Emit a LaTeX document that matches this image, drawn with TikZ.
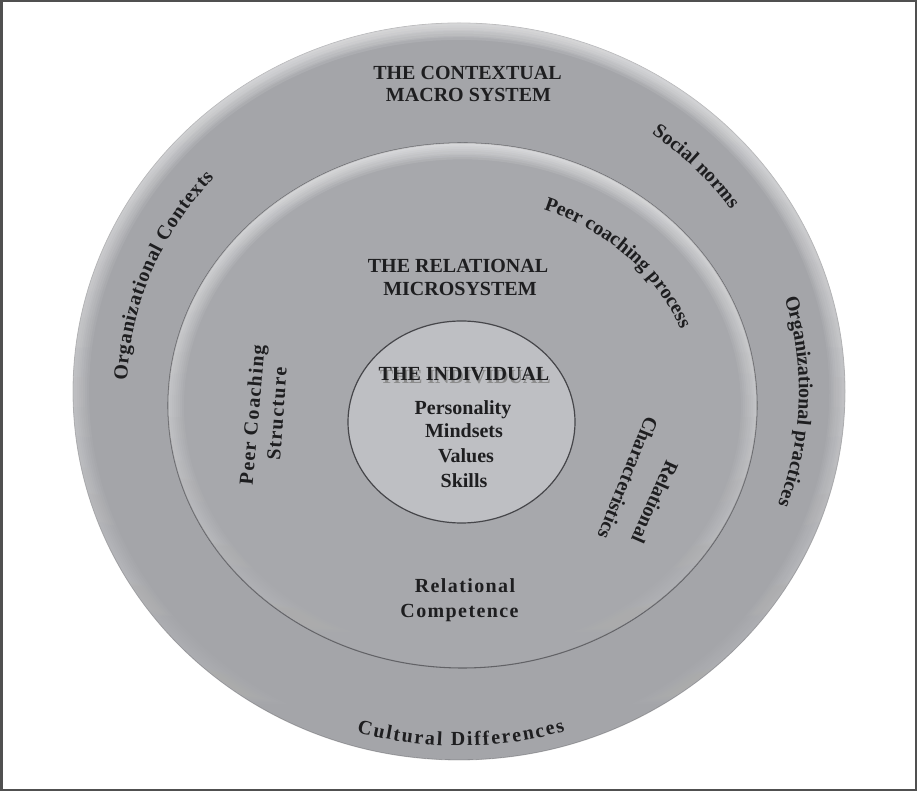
\documentclass[tikz,border=0pt]{standalone}
\usepackage{fontspec}
\setmainfont{Liberation Serif}
\newfontfamily\spacedserif[LetterSpace=7]{Liberation Serif}
\usetikzlibrary{decorations.text,fadings}

\definecolor{ringgray}{RGB}{164,165,169}
\definecolor{midgray}{RGB}{167,168,172}
\definecolor{coregray}{RGB}{190,191,195}
\definecolor{edgegray}{RGB}{70,70,74}
\definecolor{inkgray}{RGB}{30,30,32}
\definecolor{framegray}{RGB}{80,80,80}

\tikzfading[name=topglow, top color=transparent!0, middle color=transparent!100, bottom color=transparent!100]

% light rim on the upper edge of a disc
\newcommand{\ringglow}[3]{%
  \begin{scope}
    \clip (#1) ellipse [x radius=#2, y radius=#3];
    \foreach \w in {3,6,...,24}
      \draw[white, opacity=0.1, line width=\w pt, path fading=topglow] (#1) ellipse [x radius=#2, y radius=#3];
  \end{scope}}

\begin{document}
\begin{tikzpicture}[x=0.75pt, y=0.75pt,
    every node/.style={text=inkgray, font=\fontsize{15}{18}\selectfont\bfseries, anchor=base},
    spaced/.style={font=\spacedserif\fontsize{15}{18}\selectfont\bfseries},
    turned/.style={spaced, anchor=center},
    ringtext/.style={decorate, decoration={text along path, text align={fit to path}, text color=inkgray,
        text={|\fontsize{15}{18}\selectfont\bfseries|#1}}},
    tighttext/.style={decorate, decoration={text along path, text align=center, text color=inkgray,
        text={|\fontsize{15}{18}\selectfont\bfseries|#1}}}]
    \useasboundingbox (0,0) rectangle (917,792);
    \draw[framegray, line width=1.5] (1.5,1.5) rectangle (915.5,790.5);

    % Discs
    \fill[ringgray] (459,400.5) ellipse [x radius=386, y radius=368.5];
    \draw[edgegray, opacity=0.35, line width=0.6] (459,400.5) ellipse [x radius=386, y radius=368.5];
    \ringglow{459,400.5}{386}{368.5}

    \fill[midgray] (462.5,386.5) ellipse [x radius=294.5, y radius=262.5];
    \draw[edgegray, opacity=0.7, line width=0.8] (462.5,386.5) ellipse [x radius=294.5, y radius=262.5];
    \ringglow{462.5,386.5}{294.5}{262.5}

    \fill[coregray] (461.5,370) ellipse [x radius=113.5, y radius=101];
    \draw[edgegray, line width=0.9] (461.5,370) ellipse [x radius=113.5, y radius=101];

    % Nodes
    \node (ctxA) at (467.5,712) {THE CONTEXTUAL};
    \node (ctxB) at (468.5,690) {MACRO SYSTEM};

    \node (relA) at (458,519) {THE RELATIONAL};
    \node (relB) at (460,496) {MICROSYSTEM};

    \node[text=black!45] at (465.5,408.5) {THE INDIVIDUAL};
    \node (ind) at (464,411) {THE INDIVIDUAL};
    \node (persona) at (463,377) {Personality};
    \node (mindsets) at (464,354) {Mindsets};
    \node (values) at (466,329) {Values};
    \node (skills) at (464,304) {Skills};

    \node[spaced] (compA) at (465,199) {Relational};
    \node[spaced] (compB) at (459.5,174) {Competence};

    \node[turned, rotate=85] (pcsA) at (254,377) {Peer Coaching};
    \node[turned, rotate=86] (pcsB) at (277,378) {Structure};
    \node[turned, rotate=-114, font=\fontsize{15}{18}\selectfont\bfseries] (rcA) at (655,290) {Relational};
    \node[turned, rotate=-112, font=\fontsize{15}{18}\selectfont\bfseries] (rcB) at (628,314) {Characteristics};

    % Curved words
    \path[ringtext=Organizational Contexts, shift={(459,400)}]
        (178:332 and 317) arc[start angle=178, end angle=137.5, x radius=332, y radius=317];
    \path[tighttext=Social norms, shift={(459,400)}]
        (75:332 and 317) arc[start angle=75, end angle=14, x radius=332, y radius=317];
    \path[tighttext=Organizational practices, shift={(459,400)}]
        (36:340 and 324) arc[start angle=36, end angle=-39.4, x radius=340, y radius=324];
    \path[ringtext=Cultural Differences, shift={(459,400)}]
        (254:371 and 354) arc[start angle=254, end angle=286.6, x radius=371, y radius=354];
    \path[tighttext=Peer coaching process, shift={(462.5,386.5)}]
        (80:234 and 209) arc[start angle=80, end angle=10, x radius=234, y radius=209];
\end{tikzpicture}
\end{document}
